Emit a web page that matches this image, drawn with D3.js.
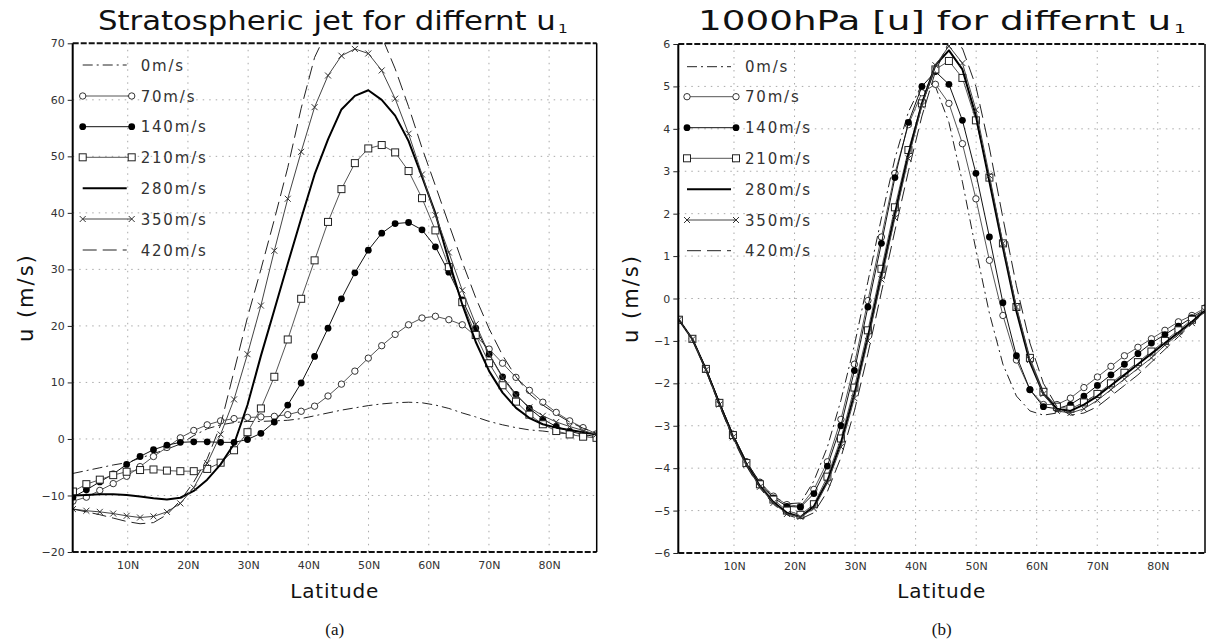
<!DOCTYPE html>
<html lang="en">
<head>
<meta charset="utf-8">
<title>u1 sensitivity</title>
<script src="https://cdnjs.cloudflare.com/ajax/libs/d3/7.8.5/d3.min.js"></script>
<style>
  body { margin: 0; background: #fff; }
  svg { display: block; }
</style>
</head>
<body>
<script>
// latitudes of the model grid (deg N)
var lats = [0.9, 3.13, 5.36, 7.59, 9.82, 12.05, 14.28, 16.51, 18.74, 20.97,
            23.2, 25.43, 27.66, 29.89, 32.12, 34.35, 36.58, 38.81, 41.04, 43.27,
            45.5, 47.73, 49.96, 52.19, 54.42, 56.65, 58.88, 61.11, 63.34, 65.57,
            67.8, 70.03, 72.26, 74.49, 76.72, 78.95, 81.18, 83.41, 85.64, 87.87];

var seriesNames = ["0m/s", "70m/s", "140m/s", "210m/s", "280m/s", "350m/s", "420m/s"];

var xTicks = [10, 20, 30, 40, 50, 60, 70, 80];
var xTickLabels = ["10N", "20N", "30N", "40N", "50N", "60N", "70N", "80N"];
var yTicksA = [-20, -10, 0, 10, 20, 30, 40, 50, 60, 70];
var yTicksB = [-6, -5, -4, -3, -2, -1, 0, 1, 2, 3, 4, 5, 6];

// (a) stratospheric jet
var jet0   = [-6.1, -5.6, -5.1, -4.6, -4.2, -3.4, -2.6, -1.8, -0.9, 0.6, 1.8, 2.5, 2.9, 3.1, 3.1, 3.2, 3.3, 3.6, 4.1, 4.6, 5.1, 5.5, 5.9, 6.2, 6.4, 6.5, 6.4, 6.0, 5.4, 4.6, 3.9, 3.1, 2.5, 2.0, 1.6, 1.4, 1.1, 0.9, 0.6, 0.4];
var jet70  = [-11.0, -10.3, -9.1, -7.9, -6.6, -4.9, -3.1, -1.5, 0.2, 1.5, 2.5, 3.2, 3.6, 3.8, 3.9, 4.0, 4.3, 4.9, 5.8, 7.6, 9.7, 12.0, 14.3, 16.5, 18.5, 20.2, 21.4, 21.7, 21.1, 20.2, 18.2, 15.9, 13.4, 10.9, 8.6, 6.5, 4.7, 3.2, 2.0, 0.9];
var jet140 = [-10.3, -9.0, -7.6, -6.2, -4.5, -3.1, -1.9, -1.1, -0.6, -0.5, -0.5, -0.6, -0.6, -0.1, 1.0, 3.0, 6.0, 9.9, 14.6, 19.6, 24.8, 29.4, 33.4, 36.4, 38.1, 38.3, 37.0, 34.0, 29.5, 24.6, 19.6, 15.0, 11.0, 7.9, 5.4, 3.5, 2.2, 1.35, 0.8, 0.4];
var jet210 = [-9.3, -8.0, -7.2, -6.4, -5.8, -5.5, -5.4, -5.6, -5.7, -5.7, -5.3, -4.2, -2.0, 1.2, 5.4, 11.0, 17.6, 24.8, 31.6, 38.4, 44.2, 48.8, 51.4, 52.0, 50.7, 47.4, 42.6, 36.9, 30.4, 24.2, 18.4, 13.4, 9.5, 6.6, 4.3, 2.6, 1.4, 0.8, 0.4, 0.2];
var jet280 = [-10.0, -9.9, -9.8, -9.8, -9.9, -10.2, -10.5, -10.7, -10.4, -9.2, -7.2, -4.5, -0.9, 6.0, 14.7, 22.8, 31.0, 39.0, 46.8, 53.0, 58.3, 60.7, 61.7, 60.0, 57.2, 52.7, 46.4, 39.9, 31.5, 23.8, 17.2, 12.0, 8.2, 5.5, 3.7, 2.6, 2.0, 1.6, 1.2, 0.8];
var jet350 = [-12.4, -12.7, -12.9, -13.2, -13.6, -13.9, -13.7, -12.9, -11.4, -8.6, -4.3, 0.8, 7.0, 15.0, 23.6, 33.3, 42.5, 50.8, 58.7, 64.3, 67.8, 69.0, 68.2, 65.2, 60.2, 54.0, 46.8, 39.6, 33.0, 26.3, 20.3, 15.0, 10.8, 7.7, 5.6, 4.1, 3.0, 2.2, 1.5, 0.8];
var jet420 = [-12.4, -12.9, -13.4, -14.0, -14.6, -15.0, -14.8, -13.4, -10.9, -7.6, -3.5, 2.5, 12.0, 21.5, 30.0, 38.8, 48.0, 58.5, 67.5, 72.5, 74.0, 74.3, 73.5, 71.2, 65.5, 58.8, 51.5, 44.8, 38.0, 31.3, 25.0, 19.5, 14.8, 11.0, 8.0, 6.0, 4.4, 3.0, 1.9, 1.0];

// (b) 1000hPa u
var sfc0   = [-0.50, -0.96, -1.66, -2.46, -3.22, -3.86, -4.34, -4.66, -4.84, -4.82, -4.3, -3.5, -2.4, -1.1, 0.4, 1.9, 3.3, 4.4, 5.05, 5.0, 4.15, 2.75, 1.15, -0.35, -1.55, -2.3, -2.65, -2.75, -2.7, -2.6, -2.45, -2.25, -2.05, -1.8, -1.55, -1.3, -1.05, -0.8, -0.55, -0.3];
var sfc70  = [-0.50, -0.95, -1.65, -2.45, -3.2, -3.85, -4.33, -4.66, -4.86, -4.9, -4.5, -3.85, -2.85, -1.55, -0.05, 1.45, 2.95, 4.1, 4.85, 5.05, 4.6, 3.65, 2.35, 0.9, -0.4, -1.45, -2.15, -2.5, -2.5, -2.35, -2.1, -1.85, -1.6, -1.35, -1.15, -0.95, -0.75, -0.55, -0.4, -0.22];
var sfc140 = [-0.50, -0.95, -1.65, -2.45, -3.2, -3.85, -4.35, -4.7, -4.9, -4.92, -4.6, -3.95, -3.0, -1.7, -0.2, 1.3, 2.85, 4.15, 5.0, 5.35, 5.05, 4.2, 2.95, 1.45, -0.1, -1.35, -2.15, -2.55, -2.6, -2.5, -2.3, -2.05, -1.8, -1.55, -1.3, -1.05, -0.85, -0.65, -0.45, -0.25];
var sfc210 = [-0.50, -0.95, -1.66, -2.46, -3.22, -3.88, -4.38, -4.74, -5.0, -5.1, -4.85, -4.2, -3.3, -2.1, -0.75, 0.7, 2.15, 3.5, 4.6, 5.4, 5.6, 5.2, 4.2, 2.85, 1.3, -0.2, -1.4, -2.2, -2.55, -2.6, -2.45, -2.25, -2.0, -1.75, -1.5, -1.25, -1.0, -0.75, -0.5, -0.25];
var sfc280 = [-0.50, -0.96, -1.67, -2.48, -3.25, -3.9, -4.42, -4.8, -5.05, -5.15, -4.9, -4.3, -3.4, -2.25, -0.9, 0.55, 2.0, 3.4, 4.6, 5.5, 5.85, 5.4, 4.3, 2.75, 1.2, -0.3, -1.5, -2.25, -2.6, -2.65, -2.5, -2.3, -2.05, -1.8, -1.55, -1.3, -1.05, -0.8, -0.55, -0.28];
var sfc350 = [-0.50, -0.96, -1.68, -2.5, -3.27, -3.92, -4.44, -4.82, -5.08, -5.15, -4.95, -4.35, -3.5, -2.35, -1.0, 0.45, 1.9, 3.3, 4.55, 5.5, 5.95, 5.55, 4.45, 2.9, 1.3, -0.2, -1.45, -2.25, -2.65, -2.7, -2.6, -2.4, -2.15, -1.9, -1.65, -1.4, -1.1, -0.85, -0.58, -0.3];
var sfc420 = [-0.50, -0.97, -1.7, -2.52, -3.3, -3.95, -4.47, -4.85, -5.1, -5.2, -5.05, -4.55, -3.75, -2.65, -1.3, 0.15, 1.6, 3.0, 4.3, 5.35, 6.05, 5.9, 5.0, 3.55, 1.9, 0.3, -1.05, -2.0, -2.55, -2.75, -2.7, -2.55, -2.3, -2.05, -1.8, -1.5, -1.2, -0.9, -0.6, -0.3];

// line look for each case
var styles = [
  {stroke: "#222", width: 1, dash: "10,4,2,4", marker: null},
  {stroke: "#555", width: 1, dash: null, marker: "open"},
  {stroke: "#111", width: 1, dash: null, marker: "dot"},
  {stroke: "#555", width: 1, dash: null, marker: "square"},
  {stroke: "#000", width: 2, dash: null, marker: null},
  {stroke: "#444", width: 1, dash: null, marker: "cross"},
  {stroke: "#222", width: 1, dash: "14,6", marker: null}
];

var W = 1207, H = 644;
var svg = d3.select("body").append("svg").attr("width", W).attr("height", H);

function drawMarker(g, type, x, y) {
  if (type == "open") {
    g.append("circle").attr("cx", x).attr("cy", y).attr("r", 3.2)
      .attr("fill", "#fff").attr("stroke", "#333").attr("stroke-width", 1);
  } else if (type == "dot") {
    g.append("circle").attr("cx", x).attr("cy", y).attr("r", 3.4).attr("fill", "#000");
  } else if (type == "square") {
    g.append("rect").attr("x", x - 3.5).attr("y", y - 3.5).attr("width", 7).attr("height", 7)
      .attr("fill", "#fff").attr("stroke", "#222").attr("stroke-width", 1);
  } else if (type == "cross") {
    g.append("path").attr("d", "M" + (x - 3) + "," + (y - 3) + "L" + (x + 3) + "," + (y + 3)
        + "M" + (x - 3) + "," + (y + 3) + "L" + (x + 3) + "," + (y - 3))
      .attr("stroke", "#333").attr("stroke-width", 1);
  }
}

function drawPanel(p) {
  var x = d3.scaleLinear().domain(p.xDomain).range([p.left, p.right]);
  var y = d3.scaleLinear().domain(p.yDomain).range([p.bottom, p.top]);
  var g = svg.append("g");

  g.append("clipPath").attr("id", p.id + "-clip")
    .append("rect").attr("x", p.left).attr("y", p.top)
    .attr("width", p.right - p.left).attr("height", p.bottom - p.top);

  // dotted grid
  g.selectAll(".vg").data(xTicks).enter().append("line")
    .attr("x1", function(d) { return x(d); }).attr("x2", function(d) { return x(d); })
    .attr("y1", p.top).attr("y2", p.bottom)
    .attr("stroke", "#aaa").attr("stroke-width", 1).attr("stroke-dasharray", "1.5,5");
  g.selectAll(".hg").data(p.yTicks.slice(1, -1)).enter().append("line")
    .attr("x1", p.left).attr("x2", p.right)
    .attr("y1", function(d) { return y(d); }).attr("y2", function(d) { return y(d); })
    .attr("stroke", "#aaa").attr("stroke-width", 1).attr("stroke-dasharray", "1.5,5");

  // curves
  var line = d3.line()
    .x(function(d) { return x(d[0]); })
    .y(function(d) { return y(d[1]); });
  var plot = g.append("g").attr("clip-path", "url(#" + p.id + "-clip)");
  p.series.forEach(function(vals, i) {
    var st = styles[i];
    var pts = lats.map(function(la, k) { return [la, vals[k]]; });
    plot.append("path").datum(pts).attr("d", line)
      .attr("fill", "none").attr("stroke", st.stroke).attr("stroke-width", st.width)
      .attr("stroke-dasharray", st.dash).attr("stroke-linejoin", "round");
    if (st.marker) {
      pts.forEach(function(d) { drawMarker(plot, st.marker, x(d[0]), y(d[1])); });
    }
  });

  // legend
  seriesNames.forEach(function(name, i) {
    var st = styles[i];
    var ly = p.legendY[i];
    var x1 = p.legendX, x2 = p.legendX + (st.marker ? 49 : 44);
    g.append("line").attr("x1", x1).attr("x2", x2).attr("y1", ly).attr("y2", ly)
      .attr("stroke", st.stroke).attr("stroke-width", st.width).attr("stroke-dasharray", st.dash);
    if (st.marker) {
      drawMarker(g, st.marker, x1, ly);
      drawMarker(g, st.marker, x2, ly);
    }
    g.append("text").attr("x", p.legendX + 58).attr("y", ly + 5.5)
      .attr("font-family", "DejaVu Sans").attr("font-size", 15).attr("letter-spacing", 1.8)
      .attr("fill", "#333").text(name);
  });

  // frame
  g.append("line").attr("x1", p.left).attr("x2", p.right).attr("y1", p.top).attr("y2", p.top)
    .attr("stroke", "#111").attr("stroke-width", 2).attr("stroke-dasharray", "6,2");
  g.append("line").attr("x1", p.left).attr("x2", p.right).attr("y1", p.bottom).attr("y2", p.bottom)
    .attr("stroke", "#111").attr("stroke-width", 2).attr("stroke-dasharray", "6,2");
  g.append("line").attr("x1", p.left).attr("x2", p.left).attr("y1", p.top).attr("y2", p.bottom)
    .attr("stroke", "#000").attr("stroke-width", 2);
  g.append("line").attr("x1", p.right).attr("x2", p.right).attr("y1", p.top).attr("y2", p.bottom)
    .attr("stroke", "#000").attr("stroke-width", 1.5);

  // y axis
  var yAxis = d3.axisLeft(y).tickValues(p.yTicks).tickSize(5).tickPadding(3);
  var ya = g.append("g").attr("transform", "translate(" + p.left + ",0)").call(yAxis);
  ya.select(".domain").remove();
  ya.selectAll("line").attr("stroke", "#222");
  ya.selectAll("text").attr("font-family", "DejaVu Sans").attr("font-size", 11).attr("fill", "#333");

  // x axis labels
  var xAxis = d3.axisBottom(x).tickValues(xTicks).tickSize(0).tickPadding(9)
    .tickFormat(function(d, i) { return xTickLabels[i]; });
  var xa = g.append("g").attr("transform", "translate(0," + p.bottom + ")").call(xAxis);
  xa.select(".domain").remove();
  xa.selectAll("text").attr("font-family", "DejaVu Sans").attr("font-size", 11).attr("fill", "#333");

  // title: the original font is wide, so stretch horizontally to its width
  var cx = (p.left + p.right) / 2;
  var t = g.append("text").attr("x", 0).attr("y", 0)
    .attr("font-family", "DejaVu Sans").attr("font-size", 26)
    .attr("fill", "#111");
  t.append("tspan").text(p.title);
  t.append("tspan").attr("font-size", 13).attr("dx", 2).attr("dy", 3).text("1");
  var tw = t.node().getBBox().width;
  t.attr("transform", "translate(" + p.titleX + ",30) scale(" + (p.titleW / tw) + ",1)");

  g.append("text").attr("x", cx).attr("y", 598).attr("text-anchor", "middle")
    .attr("font-family", "DejaVu Sans").attr("font-size", 20).attr("letter-spacing", 0.8)
    .attr("fill", "#111").text("Latitude");

  g.append("text").attr("transform", "translate(" + (p.left - 40) + "," + ((p.top + p.bottom) / 2) + ") rotate(-90)")
    .attr("text-anchor", "middle")
    .attr("font-family", "DejaVu Sans").attr("font-size", 21).attr("letter-spacing", 2)
    .attr("fill", "#111").text("u (m/s)");

  g.append("text").attr("x", cx).attr("y", 635).attr("text-anchor", "middle")
    .attr("font-family", "Liberation Serif").attr("font-size", 17)
    .attr("fill", "#111").text(p.tag);
}

drawPanel({
  id: "pa", left: 72.7, right: 596.7, top: 43.3, bottom: 552,
  xDomain: [0.86, 87.9], yDomain: [-20, 70], yTicks: yTicksA,
  series: [jet0, jet70, jet140, jet210, jet280, jet350, jet420],
  legendX: 82.7, legendY: [65, 96, 126.7, 157.3, 188.3, 219, 250],
  title: "Stratospheric jet for differnt u", titleX: 98, titleW: 470, tag: "(a)"
});

drawPanel({
  id: "pb", left: 678.3, right: 1205, top: 44, bottom: 553,
  xDomain: [0.8, 87.8], yDomain: [-6, 6], yTicks: yTicksB,
  series: [sfc0, sfc70, sfc140, sfc210, sfc280, sfc350, sfc420],
  legendX: 687, legendY: [66.7, 96.7, 127.7, 158.3, 189.3, 220, 250.7],
  title: "1000hPa [u] for differnt u", titleX: 698, titleW: 488, tag: "(b)"
});
</script>
</body>
</html>
